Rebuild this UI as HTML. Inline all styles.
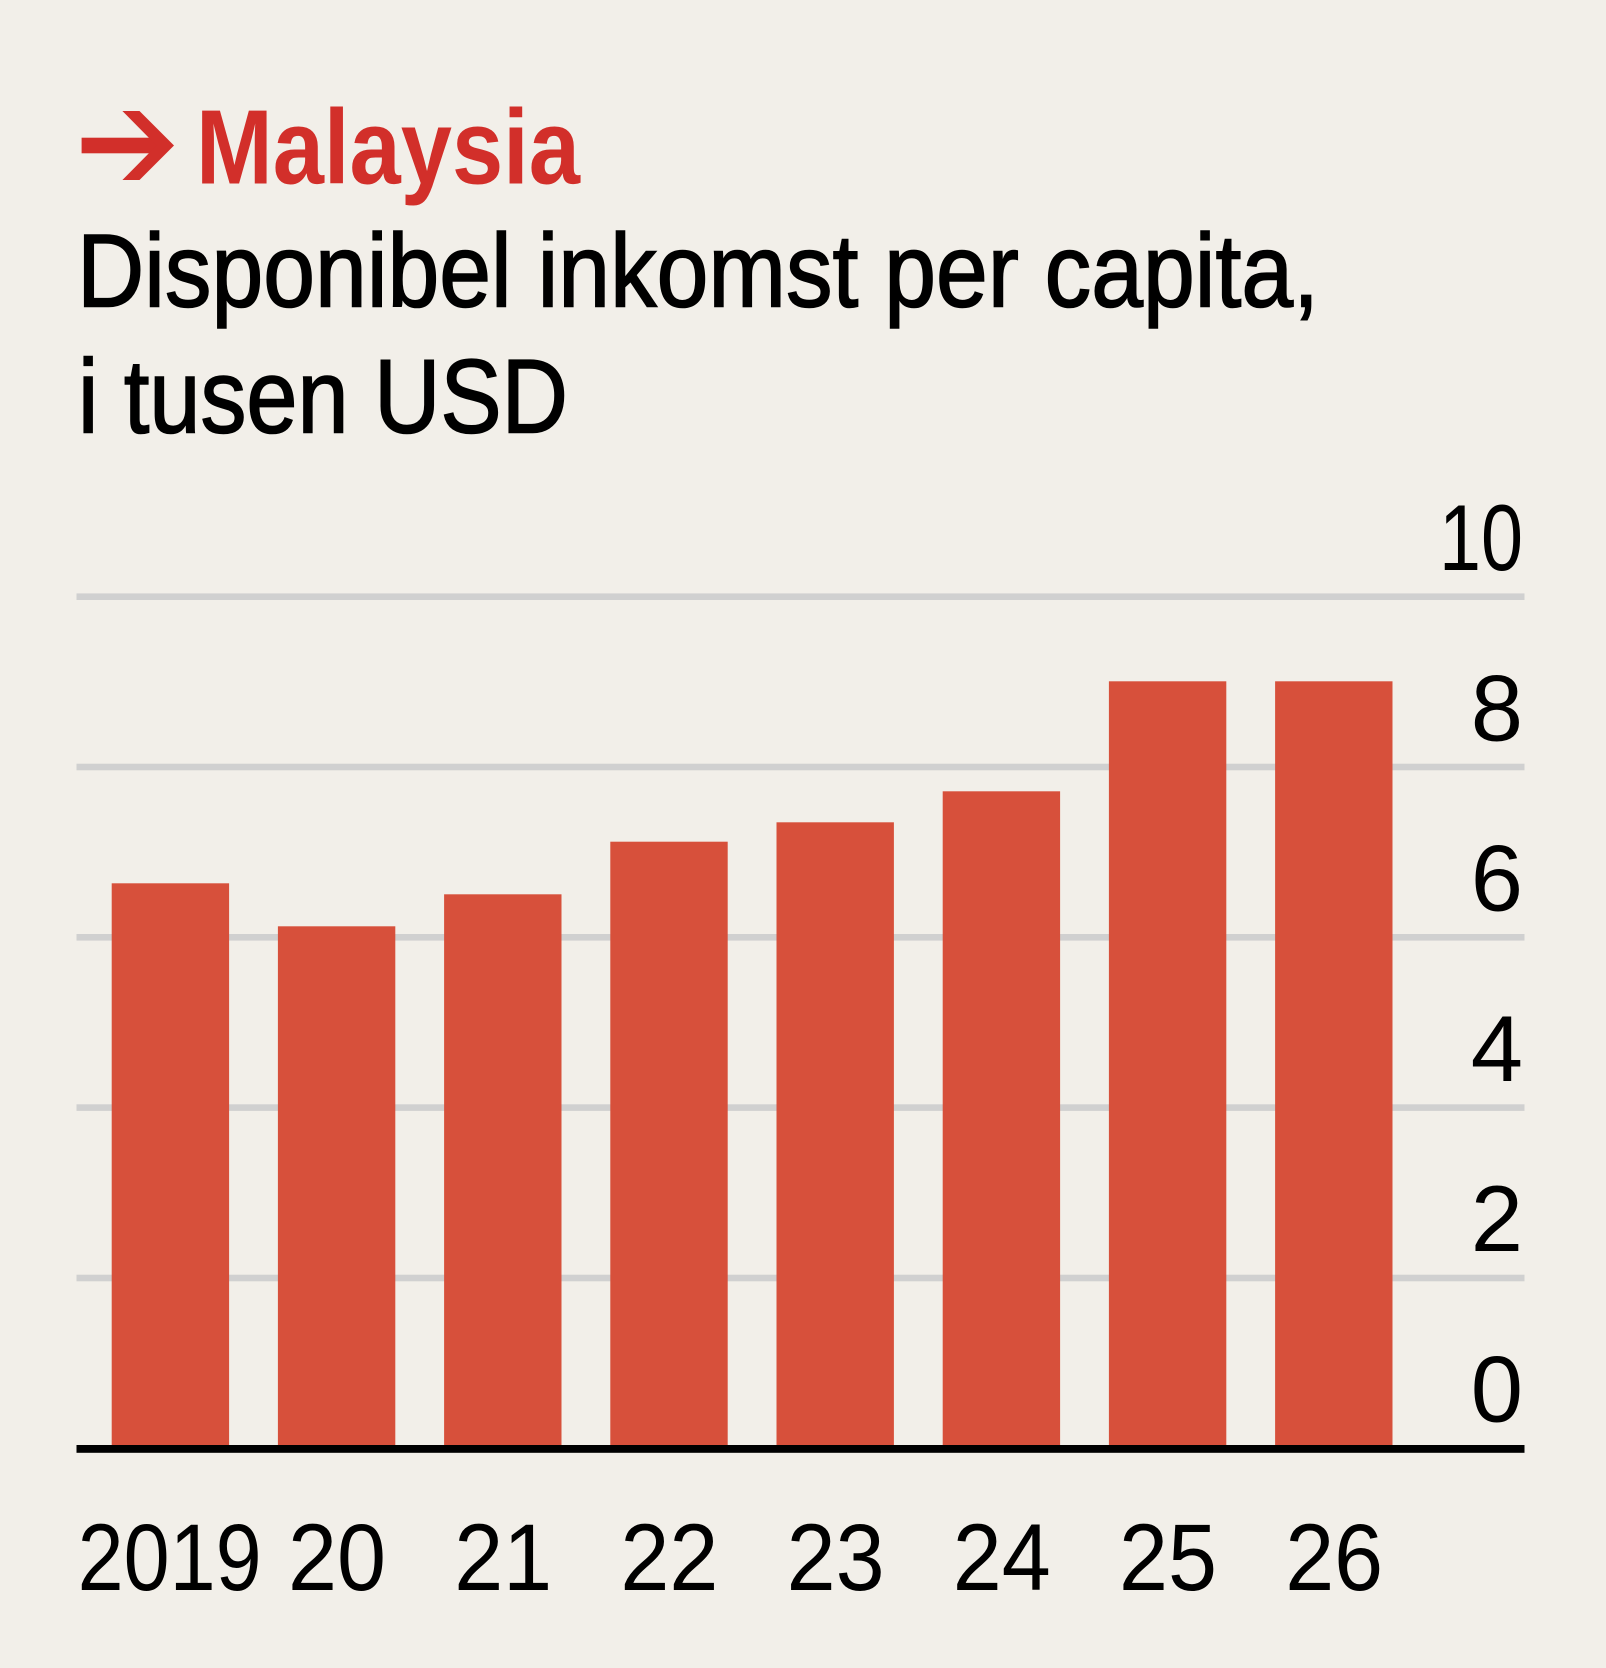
<!DOCTYPE html>
<html>
<head>
<meta charset="utf-8">
<style>
  html, body { margin: 0; padding: 0; background: #f2efe9; }
  body { width: 1606px; height: 1668px; overflow: hidden; }
  svg { display: block; }
  text { font-family: "Liberation Sans", "DejaVu Sans", sans-serif; }
</style>
</head>
<body>
<svg width="1606" height="1668" viewBox="0 0 1606 1668" xmlns="http://www.w3.org/2000/svg">
  <rect x="0" y="0" width="1606" height="1668" fill="#f2efe9"/>

  <!-- Arrow -->
  <rect x="81.6" y="137.7" width="80" height="15.6" fill="#d22f2a"/>
  <polygon points="122.4,111 139.5,111 174,145.5 139.5,180 122.4,180 156.5,145.5" fill="#d22f2a"/>

  <!-- Title -->
  <text x="196" y="183.3" font-size="105.6" font-weight="bold" fill="#d22f2a" textLength="384" lengthAdjust="spacingAndGlyphs">Malaysia</text>

  <!-- Subtitle -->
  <g fill="#000" stroke="#000" stroke-width="1.6">
    <text x="77" y="306.7" font-size="104" textLength="1242" lengthAdjust="spacingAndGlyphs">Disponibel inkomst per capita,</text>
    <text x="78" y="432.3" font-size="105" textLength="490" lengthAdjust="spacingAndGlyphs">i tusen USD</text>
  </g>

  <!-- Gridlines -->
  <g fill="#d0d0d0">
    <rect x="76.5" y="593.4" width="1448" height="6.6"/>
    <rect x="76.5" y="763.7" width="1448" height="6.6"/>
    <rect x="76.5" y="934.0" width="1448" height="6.6"/>
    <rect x="76.5" y="1104.3" width="1448" height="6.6"/>
    <rect x="76.5" y="1274.7" width="1448" height="6.6"/>
  </g>

  <!-- Y labels -->
  <g font-size="94" fill="#000" text-anchor="end">
    <text x="1523" y="570" textLength="84" lengthAdjust="spacingAndGlyphs">10</text>
    <text x="1523" y="740.3">8</text>
    <text x="1523" y="910.6">6</text>
    <text x="1523" y="1080.9">4</text>
    <text x="1523" y="1251.2">2</text>
    <text x="1523" y="1421.5">0</text>
  </g>

  <!-- Bars -->
  <g fill="#d7503b">
    <rect x="111.7" y="883.3" width="117.4" height="561.7"/>
    <rect x="277.9" y="926.3" width="117.4" height="518.7"/>
    <rect x="444.1" y="894.3" width="117.4" height="550.7"/>
    <rect x="610.3" y="841.7" width="117.4" height="603.3"/>
    <rect x="776.5" y="822.3" width="117.4" height="622.7"/>
    <rect x="942.7" y="791.3" width="117.4" height="653.7"/>
    <rect x="1108.9" y="681.3" width="117.4" height="763.7"/>
    <rect x="1275.1" y="681.3" width="117.4" height="763.7"/>
  </g>

  <!-- Axis -->
  <rect x="76.5" y="1445" width="1448" height="7.8" fill="#000"/>

  <!-- X labels -->
  <g font-size="95" fill="#000">
    <text x="77.6" y="1590" textLength="184" lengthAdjust="spacingAndGlyphs">2019</text>
    <text x="288" y="1590" textLength="98" lengthAdjust="spacingAndGlyphs">20</text>
    <text x="454.2" y="1590" textLength="98" lengthAdjust="spacingAndGlyphs">21</text>
    <text x="620.4" y="1590" textLength="98" lengthAdjust="spacingAndGlyphs">22</text>
    <text x="786.6" y="1590" textLength="98" lengthAdjust="spacingAndGlyphs">23</text>
    <text x="952.8" y="1590" textLength="98" lengthAdjust="spacingAndGlyphs">24</text>
    <text x="1119" y="1590" textLength="98" lengthAdjust="spacingAndGlyphs">25</text>
    <text x="1285.2" y="1590" textLength="98" lengthAdjust="spacingAndGlyphs">26</text>
  </g>
</svg>
</body>
</html>
